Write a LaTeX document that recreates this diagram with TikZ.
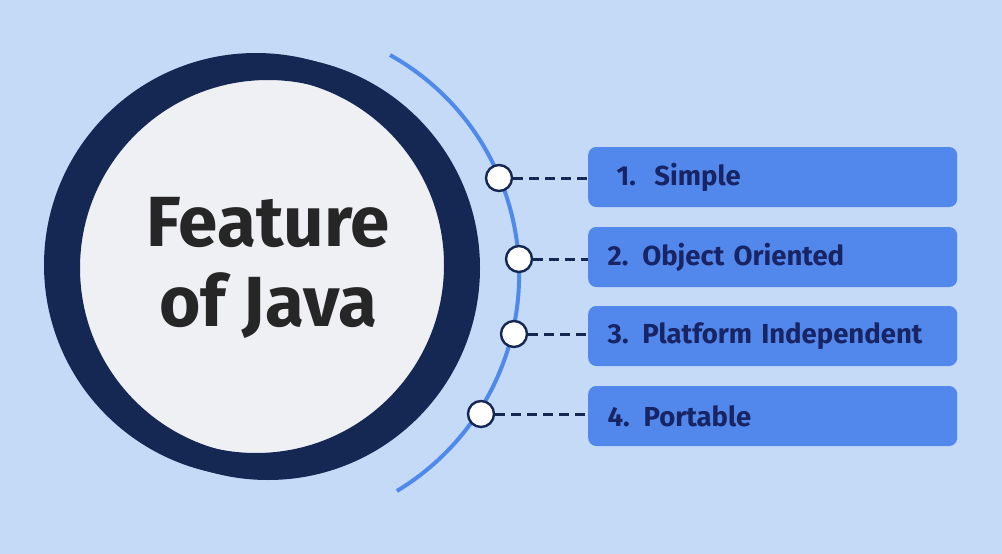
\documentclass[tikz,border=0pt]{standalone}
\usepackage{fontspec}
\setmainfont{Fira Sans}
\definecolor{bgColor}{RGB}{197,218,247}
\definecolor{ringColor}{RGB}{21,40,84}
\definecolor{discColor}{RGB}{239,240,244}
\definecolor{arcColor}{RGB}{80,137,236}
\definecolor{boxColor}{RGB}{82,136,235}
\definecolor{textColor}{RGB}{24,36,100}
\tikzset{
  featbox/.style={fill=boxColor,rounded corners=8pt,minimum width=369pt,minimum height=60pt,
    anchor=west,inner sep=0pt,text=textColor,font=\fontsize{27.5}{32}\selectfont\bfseries,
    align=left,text width=330pt},
  pin/.style={circle,draw=ringColor,line width=2.4pt,fill=white,minimum size=26pt,inner sep=0pt},
  link/.style={draw=ringColor,line width=3pt,dash pattern=on 10pt off 6pt}
}
\begin{document}
\begin{tikzpicture}[x=1pt,y=-1pt]
\path[use as bounding box,fill=bgColor] (0,0) rectangle (1002,554);
% big circle
\node[circle,fill=discColor,draw=ringColor,line width=24pt,minimum size=400pt,inner sep=0pt,
  font=\fontsize{71}{80}\selectfont\bfseries,text=black!85,align=center] (title) at (268,268)
  {Feature\\of Java};
\node[circle,draw=ringColor,line width=24pt,minimum size=400pt] at (256,265) {};
% arc
\draw[arcColor,line width=4pt] (390,55) arc[start angle=-60.8,end angle=59,radius=252];
% features
\node[featbox] (f1) at (588,177) {\hspace*{9pt}1.\ \ Simple};
\node[featbox] (f2) at (588,257) {2. Object Oriented};
\node[featbox] (f3) at (588,336) {3. Platform Independent};
\node[featbox] (f4) at (588,416) {4. Portable};
\node[pin] (p1) at (499,178) {};
\node[pin] (p2) at (519,259) {};
\node[pin] (p3) at (514,334) {};
\node[pin] (p4) at (481,414) {};
\foreach \i in {1,...,4}
  \draw[link] (p\i.east) -- (p\i.east -| f\i.west);
\end{tikzpicture}
\end{document}
